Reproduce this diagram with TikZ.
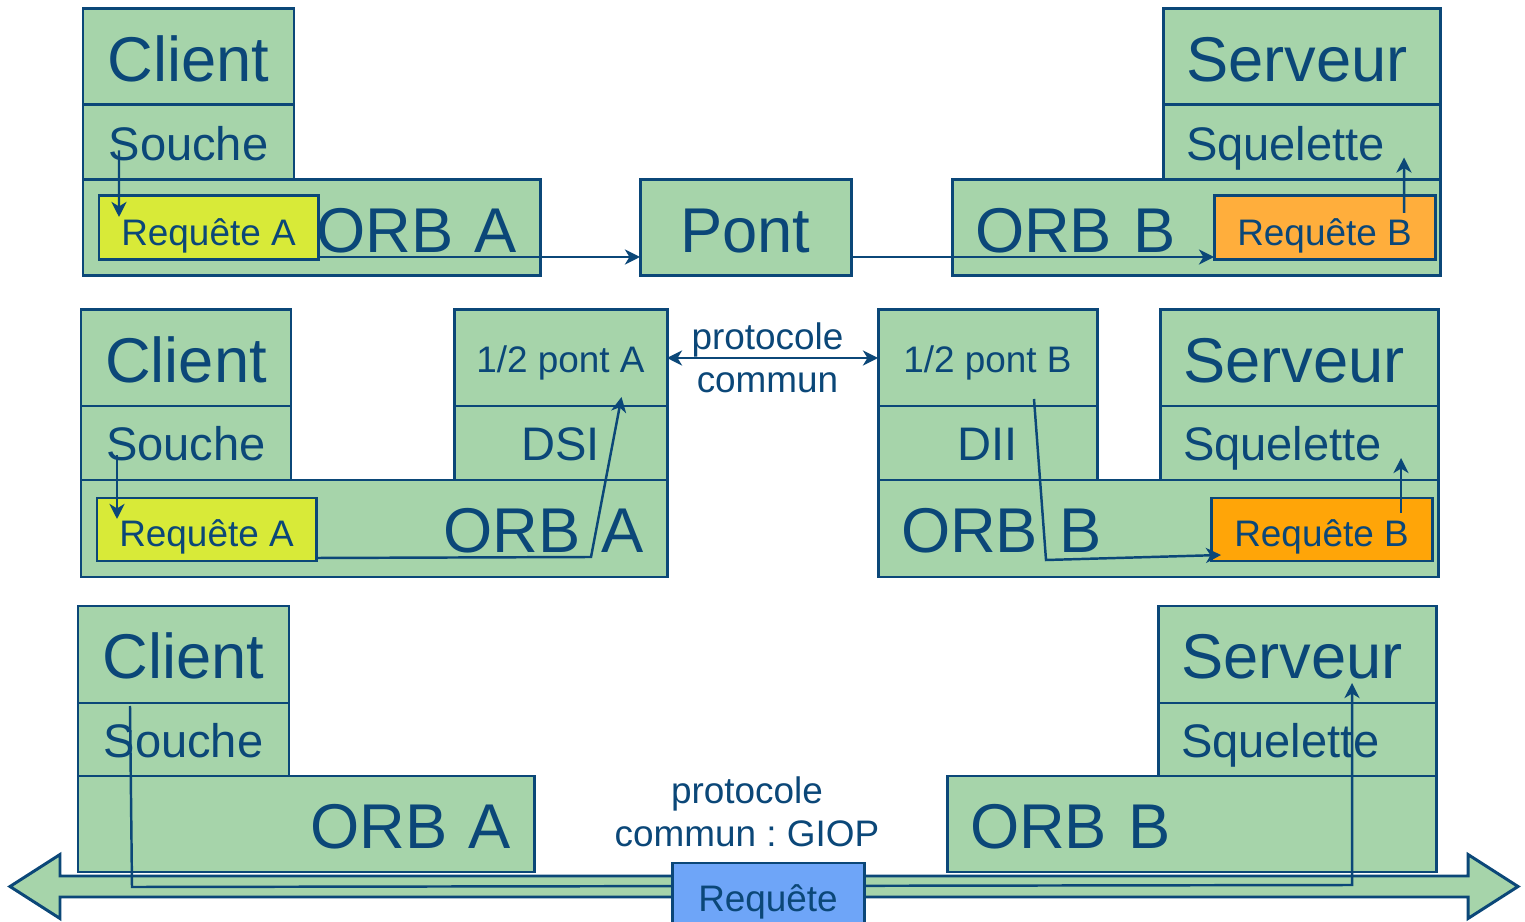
\documentclass[tikz,border=0pt]{standalone}
\usepackage{fontspec}
\setmainfont{Liberation Sans}
\frenchspacing
\usetikzlibrary{calc,arrows.meta}
\definecolor{navy}{HTML}{0B4778}
\definecolor{orbgreen}{HTML}{A6D4AA}
\definecolor{reqyellow}{HTML}{D8EA38}
\definecolor{reqorange}{HTML}{FFAE3C}
\definecolor{reqdeep}{HTML}{FFA508}
\definecolor{reqblue}{HTML}{6EA5F8}
\newcommand{\fsBig}{\fontsize{18}{21}\selectfont}
\newcommand{\fsMid}{\fontsize{13.4}{16}\selectfont}
\newcommand{\fsSmall}{\fontsize{10.5}{12.2}\selectfont}
\tikzset{
  layer/.style={draw=navy,line width=0.85pt,fill=orbgreen,text=navy,anchor=north west,inner sep=0pt,outer sep=0pt},
  big/.style={font=\fsBig,text height=18pt,text depth=4.3pt},
  mid/.style={font=\fsMid,text height=13.4pt,text depth=3.4pt},
  small/.style={font=\fsSmall,text height=10.9pt,text depth=2.5pt},
  reqtext/.style={font=\fsSmall,text height=12.3pt,text depth=2.6pt},
  toleft/.style={align=left,text width=#1,inner xsep=0.23cm},
  toright/.style={align=right,text width=#1,inner xsep=0.23cm},
  flow/.style={navy,line width=0.7pt},
  bus/.style={draw=navy,line width=0.85pt,fill=orbgreen}
}
\begin{document}
\begin{tikzpicture}[x=1cm,y=-1cm,>={Stealth[length=4.3pt,width=4.3pt,inset=1.3pt]}]
\useasboundingbox (0,0) rectangle (15.25,9.22);
% common GIOP bus
\draw [bus] (0.10,8.865) -- (0.60,8.545) -- (0.60,8.76) -- (14.68,8.76) -- (14.68,8.545) -- (15.18,8.865)
  -- (14.68,9.185) -- (14.68,8.97) -- (0.60,8.97) -- (0.60,9.185) -- cycle;
%
% first row: bridge
\node [layer,big,minimum width=2.11cm,minimum height=0.96cm] (cli1) at (0.83,0.09) {Client};
\node [layer,mid,minimum width=2.11cm,minimum height=0.75cm] (sou1) at (0.83,1.05) {Souche};
\node [layer,big,minimum width=4.57cm,minimum height=0.96cm,toright=4.11cm] (orbA1) at (0.83,1.80) {ORB A};
\node [layer,reqtext,fill=reqyellow,minimum width=2.19cm,minimum height=0.64cm] (reqA1) at (0.99,1.96) {Requête A};
\node [layer,big,minimum width=2.11cm,minimum height=0.96cm] (pont) at (6.40,1.80) {Pont};
\node [layer,big,minimum width=4.88cm,minimum height=0.96cm,toleft=4.42cm] (orbB1) at (9.52,1.80) {ORB B};
\node [layer,reqtext,fill=reqorange,minimum width=2.21cm,minimum height=0.64cm] (reqB1) at (12.14,1.96) {Requête B};
\node [layer,big,minimum width=2.77cm,minimum height=0.96cm,toleft=2.31cm] (srv1) at (11.63,0.09) {Serveur};
\node [layer,mid,minimum width=2.77cm,minimum height=0.75cm,toleft=2.31cm] (squ1) at (11.63,1.05) {Squelette};
%
% second row: half bridges
\node [layer,big,minimum width=2.10cm,minimum height=0.96cm] (cli2) at (0.81,3.10) {Client};
\node [layer,mid,minimum width=2.10cm,minimum height=0.74cm] (sou2) at (0.81,4.06) {Souche};
\node [layer,big,minimum width=5.86cm,minimum height=0.97cm,toright=5.40cm] (orbA2) at (0.81,4.80) {ORB A};
\node [layer,reqtext,fill=reqyellow,minimum width=2.19cm,minimum height=0.63cm] (reqA2) at (0.97,4.98) {Requête A};
\node [layer,small,minimum width=2.13cm,minimum height=0.96cm] (hpA) at (4.54,3.10) {1/2 pont A};
\node [layer,mid,minimum width=2.13cm,minimum height=0.74cm] (dsi) at (4.54,4.06) {DSI};
\node [layer,small,minimum width=2.19cm,minimum height=0.96cm] (hpB) at (8.78,3.10) {1/2 pont B};
\node [layer,mid,minimum width=2.19cm,minimum height=0.74cm] (dii) at (8.78,4.06) {DII};
\node [layer,big,minimum width=5.60cm,minimum height=0.97cm,toleft=5.14cm] (orbB2) at (8.78,4.80) {ORB B};
\node [layer,big,minimum width=2.78cm,minimum height=0.96cm,toleft=2.32cm] (srv2) at (11.60,3.10) {Serveur};
\node [layer,mid,minimum width=2.78cm,minimum height=0.74cm,toleft=2.32cm] (squ2) at (11.60,4.06) {Squelette};
\node [layer,reqtext,fill=reqdeep,minimum width=2.21cm,minimum height=0.63cm] (reqB2) at (12.11,4.98) {Requête B};
%
% third row: GIOP
\node [layer,big,minimum width=2.11cm,minimum height=0.97cm] (cli3) at (0.78,6.06) {Client};
\node [layer,mid,minimum width=2.11cm,minimum height=0.73cm] (sou3) at (0.78,7.03) {Souche};
\node [layer,big,minimum width=4.56cm,minimum height=0.96cm,toright=4.10cm] (orbA3) at (0.78,7.76) {ORB A};
\node [layer,big,minimum width=2.78cm,minimum height=0.97cm,toleft=2.32cm] (srv3) at (11.58,6.06) {Serveur};
\node [layer,mid,minimum width=2.78cm,minimum height=0.73cm,toleft=2.32cm] (squ3) at (11.58,7.03) {Squelette};
\node [layer,big,minimum width=4.89cm,minimum height=0.96cm,toleft=4.43cm] (orbB3) at (9.47,7.76) {ORB B};
%
% request paths
\draw [flow,->] ([xshift=0.36cm,yshift=-0.08cm]sou1.west) -- ([xshift=0.20cm,yshift=-0.21cm]reqA1.north west);
\draw [flow,->] ([yshift=0.03cm]reqA1.south east) coordinate (b1) -- (b1 -| pont.west);
\draw [flow,->] (b1 -| pont.east) -- (b1 -| reqB1.west);
\draw [flow,->] ([xshift=-0.31cm,yshift=-0.17cm]reqB1.north east) -- ([xshift=-0.36cm,yshift=-0.15cm]squ1.east);
%
\coordinate (kA) at (5.91,5.57);
\coordinate (kB) at (10.46,5.60);
\draw [flow,->] ([xshift=0.36cm,yshift=-0.12cm]sou2.west) -- ([xshift=0.20cm,yshift=-0.21cm]reqA2.north west);
\draw [flow,->] ([yshift=0.03cm]reqA2.south east) -- (kA) -- ([xshift=0.61cm,yshift=0.09cm]hpA.south);
\draw [flow,<->] (hpA.east) -- (hpB.west) node [midway,xshift=-0.05cm,text=navy,font=\fsSmall,align=center] (proto) {protocole\\commun};
\draw [flow,->] ([xshift=0.465cm,yshift=0.07cm]hpB.south) -- (kB) -- ([xshift=0.10cm,yshift=0.06cm]reqB2.south west);
\draw [flow,->] ([xshift=-0.31cm,yshift=-0.15cm]reqB2.north east) -- ([xshift=-0.37cm,yshift=-0.15cm]squ2.east);
%
\coordinate (kL) at (1.32,8.87);
\coordinate (kR) at (13.52,8.85);
\draw [flow,->] ([xshift=0.52cm,yshift=-0.03cm]sou3.north west) -- (kL) -- (kR) -- ([xshift=0.55cm,yshift=0.20cm]srv3.south);
\node [layer,small,fill=reqblue,minimum width=1.92cm,minimum height=0.67cm,anchor=north] (req) at (7.68,8.63) {Requête};
\node [text=navy,font=\fsSmall,align=center] (giop) at (7.47,8.12) {protocole\\commun : GIOP};
\end{tikzpicture}
\end{document}
